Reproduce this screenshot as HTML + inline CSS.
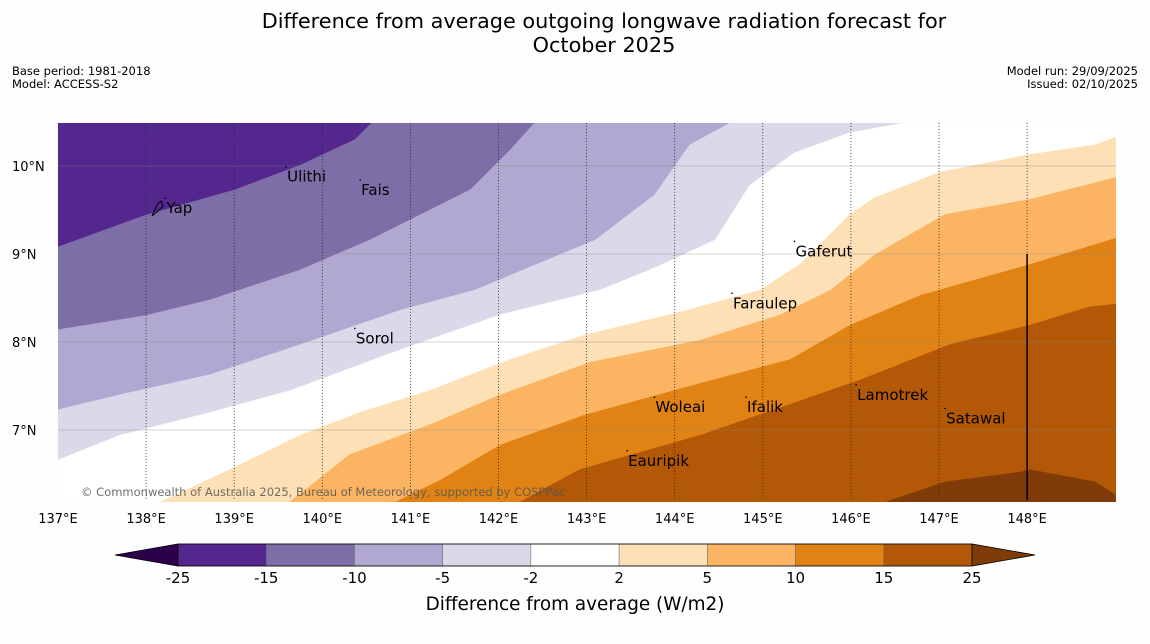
<!DOCTYPE html>
<html><head><meta charset="utf-8"><style>
body{margin:0;background:#fff;width:1150px;height:644px;overflow:hidden;font-family:"Liberation Sans","DejaVu Sans",sans-serif}
svg{display:block}
</style></head><body>
<svg id="chart" width="1150" height="644" xmlns="http://www.w3.org/2000/svg" font-family="DejaVu Sans, Liberation Sans, sans-serif">
<rect width="1150" height="644" fill="#fefefe"/>
<text x="604" y="28" font-size="20.8" text-anchor="middle">Difference from average outgoing longwave radiation forecast for</text>
<text x="604" y="52" font-size="20.8" text-anchor="middle">October 2025</text>
<text x="12" y="75" font-size="11.5">Base period: 1981-2018</text>
<text x="12" y="88" font-size="11.5">Model: ACCESS-S2</text>
<text x="1138" y="75" font-size="11.5" text-anchor="end">Model run: 29/09/2025</text>
<text x="1138" y="88" font-size="11.5" text-anchor="end">Issued: 02/10/2025</text>
<defs><clipPath id="mapclip"><rect x="58" y="123" width="1058" height="379"/></clipPath></defs>
<g id="map" clip-path="url(#mapclip)"></g>
<g id="overlay"></g>
<g id="colorbar"></g>
<text x="575" y="610" font-size="18.4" text-anchor="middle">Difference from average (W/m2)</text>
</svg>
<script>
const lonMin=137, lonMax=149, latMin=6.2, latMax=10.49;
const x0=58, pxPerLon=88.1, yRef=166, pxPerLat=88;
function X(lon){return x0+(lon-lonMin)*pxPerLon;}
function Y(lat){return yRef+(10-lat)*pxPerLat;}
const levels=[-25,-15,-10,-5,-2,2,5,10,15,25];
const colors=["#54278f","#7e6ea8","#b0a8d0","#d9d9ea","#ffffff","#fee0b6","#fbb562","#e08214","#b35806","#7f3b08"];
const b15=[[137,9.08],[137.99,9.44],[139.01,9.73],[139.75,10.01],[140.37,10.30],[140.56,10.49]];
const b10=[[137,8.14],[137.99,8.30],[138.73,8.48],[139.75,8.82],[140.54,9.16],[141.34,9.56],[141.68,9.73],[142.13,10.18],[142.41,10.49]];
const b5=[[137,7.23],[137.70,7.40],[138.73,7.63],[139.75,7.97],[140.88,8.36],[141.73,8.59],[143.10,9.16],[143.77,9.67],[144.17,10.24],[144.63,10.49]];
const b2=[[137,6.66],[137.70,6.94],[138.73,7.20],[139.64,7.45],[140.88,7.91],[142.02,8.31],[143.15,8.59],[143.72,8.82],[144.46,9.16],[144.85,9.78],[145.36,10.15],[145.99,10.38],[146.61,10.49]];
const p2=[[138.16,6.18],[138.95,6.55],[139.75,6.94],[140.43,7.20],[141.22,7.45],[142.13,7.80],[142.98,8.08],[144.06,8.34],[144.97,8.59],[145.42,8.88],[145.99,9.45],[146.27,9.64],[147.01,9.93],[148.03,10.13],[148.77,10.24],[149.01,10.33]];
const p5=[[139.63,6.18],[140.31,6.72],[141.22,7.06],[142.02,7.40],[143.04,7.77],[144.29,8.02],[145.20,8.31],[145.77,8.59],[146.27,8.99],[146.67,9.22],[147.07,9.45],[148.03,9.62],[149.01,9.87]];
const p10=[[140.83,6.18],[141.34,6.43],[142.02,6.83],[142.98,7.17],[144.29,7.53],[145.31,7.80],[145.99,8.19],[146.79,8.53],[148.03,8.88],[149.01,9.18]];
const p15=[[142.24,6.18],[142.92,6.55],[144.29,6.94],[146.11,7.57],[147.12,7.97],[148.03,8.19],[148.71,8.40],[149.01,8.43]];
const p25=[[146.39,6.18],[147.07,6.41],[147.92,6.52],[148.03,6.55],[148.77,6.41],[149.01,6.26]];
const boundaries=[b15,b10,b5,b2,p2,p5,p10,p15,p25];
const latTicks=[7,8,9,10];
const lonTicks=[137,138,139,140,141,142,143,144,145,146,147,148];
const islands=[["Yap",138.22,9.52],["Ulithi",139.59,9.88],["Fais",140.43,9.73],["Gaferut",145.36,9.03],["Faraulep",144.65,8.44],["Sorol",140.37,8.04],["Woleai",143.77,7.26],["Ifalik",144.81,7.26],["Lamotrek",146.06,7.40],["Satawal",147.07,7.13],["Eauripik",143.46,6.65]];
const NS="http://www.w3.org/2000/svg";
function mk(tag,attrs,parent){const e=document.createElementNS(NS,tag);for(const k in attrs)e.setAttribute(k,attrs[k]);parent.appendChild(e);return e;}
const map=document.getElementById('map');
const bg=mk('rect',{x:X(lonMin),y:Y(latMax),width:X(lonMax)-X(lonMin),height:Y(latMin)-Y(latMax),fill:colors[0]},map);


boundaries.forEach((b,i)=>{
  let pts=b.map(p=>[X(p[0]),Y(p[1])]);
  const last=b[b.length-1];
  if(last[1]>=latMax-0.01) pts.push([X(lonMax)+5,Y(latMax)-5]);
  pts.push([X(lonMax)+5,Y(latMin)+5]);
  pts.push([X(lonMin)-5,Y(latMin)+5]);
  const poly=mk('polygon',{points:pts.map(p=>p.join(',')).join(' '),fill:colors[i+1],stroke:colors[i+1],'stroke-width':0.5},map);
  
  
});
const ov=document.getElementById('overlay');
latTicks.forEach(l=>{
  const ln=mk('line',{x1:X(lonMin),x2:X(lonMax),y1:Y(l),y2:Y(l),stroke:'#888','stroke-width':0.6,'stroke-opacity':0.7},ov);
  
  
  const t=mk('text',{x:12,y:Y(l)+5,'font-size':13},ov);t.textContent=l+'°N';
  
  
});
lonTicks.forEach(l=>{
  if(l>lonMin){const ln=mk('line',{x1:X(l),x2:X(l),y1:Y(latMax),y2:Y(latMin),stroke:'#222','stroke-width':0.8,'stroke-dasharray':'1,2'},ov);
  
  }
  const t=mk('text',{x:X(l),y:523,'font-size':13,'text-anchor':'middle'},ov);t.textContent=l+'°E';
  
  
});
const bl=mk('line',{x1:X(148),x2:X(148),y1:Y(9),y2:Y(latMin),stroke:'#000','stroke-width':1.5},ov);


islands.forEach(s=>{
  const d=mk('circle',{cx:X(s[1]),cy:Y(s[2])-10,r:0.8,fill:'#000'},ov);
  
  
  const t=mk('text',{x:X(s[1])+1,y:Y(s[2])+5,'font-size':15},ov);t.textContent=s[0];
  
  
});
const yp=mk('path',{d:'M152,216 L157,205 L161,201 L163,206 L158,211 Z',fill:'none',stroke:'#000','stroke-width':1},ov);


const cp=mk('text',{x:81,y:496,'font-size':11.5,fill:'#555','fill-opacity':0.85},ov);cp.textContent='© Commonwealth of Australia 2025, Bureau of Meteorology, supported by COSPPac';


const cb=document.getElementById('colorbar');
const cbX0=178, cbX1=972, cbY=544, cbH=22, boxW=(cbX1-cbX0)/(levels.length-1);
const lt=mk('polygon',{points:`115,555 ${cbX0},${cbY} ${cbX0},${cbY+cbH}`,fill:'#2d004b',stroke:'#000','stroke-width':0.8},cb);


const rt=mk('polygon',{points:`1035,555 ${cbX1},${cbY} ${cbX1},${cbY+cbH}`,fill:colors[9],stroke:'#000','stroke-width':0.8},cb);


for(let i=0;i<levels.length-1;i++){
  const r=mk('rect',{x:cbX0+i*boxW,y:cbY,width:boxW,height:cbH,fill:colors[i],stroke:'#666','stroke-width':0.5},cb);
  
  
}
const fr=mk('rect',{x:cbX0,y:cbY,width:cbX1-cbX0,height:cbH,fill:'none',stroke:'#000','stroke-width':0.8},cb);


levels.forEach((l,i)=>{
  const t=mk('text',{x:cbX0+i*boxW,y:583,'font-size':15,'text-anchor':'middle'},cb);t.textContent=l;
  
  
});
</script>
</body></html>
